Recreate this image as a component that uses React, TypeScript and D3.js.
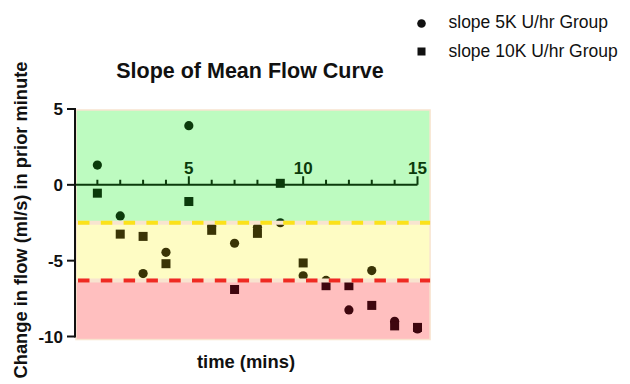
import React, { useRef, useEffect } from 'react';
import * as d3 from 'd3';

// ==================== DATA ====================
const TIMES = [1, 2, 3, 4, 5, 6, 7, 8, 9, 10, 11, 12, 13, 14, 15];
const SLOPE_5K = [1.3, -2.05, -5.85, -4.45, 3.9, -2.7, -3.85, -2.8, -2.5, -6.0, -6.3, -8.25, -5.65, -9.0, -9.5];
const SLOPE_10K = [-0.55, -3.25, -3.4, -5.2, -1.1, -3.0, -6.9, -3.2, 0.1, -5.15, -6.65, -6.65, -7.95, -9.3, -9.4];
const Y_TICKS = [5, 0, -5, -10];
const X_MAJOR = [5, 10, 15];
const SERIES_NAMES = ['slope 5K U/hr Group', 'slope 10K U/hr Group'];
const THRESHOLDS = [-2.5, -6.3]; // yellow / red cut-offs

const W = 630;
const H = 384;
const FONT = "'Liberation Sans', Arial, sans-serif";

// band colours + colour the marks take on inside each band
const BANDS = [
    { fill: '#bdfbc0', mark: '#0b3a0b' },
    { fill: '#fefcc4', mark: '#3a3406' },
    { fill: '#ffbfbf', mark: '#3e060e' },
];

const App = () => {
    const svgRef = useRef<SVGSVGElement | null>(null);

    useEffect(() => {
        const svg = d3.select(svgRef.current);
        svg.selectAll('*').remove();

        const x = d3.scaleLinear().domain([0, 15]).range([74.5, 417.5]);
        const y = d3.scaleLinear().domain([-10, 5]).range([336.5, 109]);

        const left = 76;
        const right = x(15.55);
        const top = y(5) + 1;
        const bottom = y(-10.2);

        const edges = [top, y(THRESHOLDS[0]), y(THRESHOLDS[1]), bottom];

        // --- bands ---
        const defs = svg.append('defs');
        BANDS.forEach((b, i) => {
            svg.append('rect')
                .attr('x', left).attr('y', edges[i])
                .attr('width', right - left).attr('height', edges[i + 1] - edges[i])
                .attr('fill', b.fill);
            defs.append('clipPath').attr('id', `band-${i}`)
                .append('rect')
                .attr('x', 0).attr('y', i === 0 ? 0 : edges[i])
                .attr('width', W).attr('height', (i === 2 ? H : edges[i + 1]) - (i === 0 ? 0 : edges[i]));
        });
        svg.append('rect')
            .attr('x', left).attr('y', top)
            .attr('width', right - left).attr('height', bottom - top)
            .attr('fill', 'none').attr('stroke', '#f8e4cf').attr('stroke-width', 1.5);

        // --- x axis at y = 0 and the points, drawn per band so colours follow the zone ---
        const x0 = y(0);
        BANDS.forEach((b, i) => {
            const g = svg.append('g').attr('clip-path', `url(#band-${i})`);

            g.append('line')
                .attr('x1', x(0)).attr('x2', x(15))
                .attr('y1', x0).attr('y2', x0)
                .attr('stroke', b.mark).attr('stroke-width', 2);
            g.selectAll('.xtick')
                .data(d3.range(1, 16))
                .enter().append('line')
                .attr('x1', d => x(d)).attr('x2', d => x(d))
                .attr('y1', x0).attr('y2', d => x0 - (X_MAJOR.includes(d) ? 8.5 : 5))
                .attr('stroke', b.mark).attr('stroke-width', 2);
            g.selectAll('.xlab')
                .data(X_MAJOR)
                .enter().append('text')
                .attr('x', d => x(d)).attr('y', x0 - 11)
                .attr('text-anchor', 'middle')
                .attr('font-family', FONT).attr('font-weight', 'bold').attr('font-size', 17)
                .attr('fill', b.mark)
                .text(d => d);

            g.selectAll('.dot')
                .data(TIMES.map((t, k) => ({ t, v: SLOPE_5K[k] })))
                .enter().append('circle')
                .attr('cx', d => x(d.t)).attr('cy', d => y(d.v)).attr('r', 4.6)
                .attr('fill', b.mark);
            g.selectAll('.sq')
                .data(TIMES.map((t, k) => ({ t, v: SLOPE_10K[k] })))
                .enter().append('rect')
                .attr('x', d => x(d.t) - 4.5).attr('y', d => y(d.v) - 4.5)
                .attr('width', 9).attr('height', 9)
                .attr('fill', b.mark);
        });

        // --- dashed threshold lines ---
        [['#fbe21a', THRESHOLDS[0]], ['#ef2a22', THRESHOLDS[1]]].forEach(([col, v]) => {
            const yy = y(v as number);
            svg.append('line')
                .attr('x1', left).attr('x2', right).attr('y1', yy).attr('y2', yy)
                .attr('stroke', '#f8e4cf').attr('stroke-width', 4);
            svg.append('line')
                .attr('x1', 78).attr('x2', right).attr('y1', yy).attr('y2', yy)
                .attr('stroke', col as string).attr('stroke-width', 4)
                .attr('stroke-dasharray', '11.5 11.3');
        });

        // --- y axis ---
        svg.append('line')
            .attr('x1', 75).attr('x2', 75).attr('y1', y(5) - 1).attr('y2', y(-10) + 1)
            .attr('stroke', '#111').attr('stroke-width', 2);
        const yt = svg.selectAll('.ytick').data(Y_TICKS).enter().append('g');
        yt.append('line')
            .attr('x1', 67).attr('x2', 75).attr('y1', d => y(d)).attr('y2', d => y(d))
            .attr('stroke', '#111').attr('stroke-width', 2);
        yt.append('text')
            .attr('x', 63).attr('y', d => y(d)).attr('dy', '0.36em')
            .attr('text-anchor', 'end')
            .attr('font-family', FONT).attr('font-weight', 'bold').attr('font-size', 17)
            .attr('fill', '#111')
            .text(d => d);

        // --- titles ---
        svg.append('text')
            .attr('x', 250).attr('y', 78).attr('text-anchor', 'middle')
            .attr('font-family', FONT).attr('font-weight', 'bold').attr('font-size', 21.5)
            .attr('fill', '#111')
            .text('Slope of Mean Flow Curve');
        svg.append('text')
            .attr('x', 246).attr('y', 368).attr('text-anchor', 'middle')
            .attr('font-family', FONT).attr('font-weight', 'bold').attr('font-size', 18.4)
            .attr('fill', '#111')
            .text('time (mins)');
        svg.append('text')
            .attr('transform', 'translate(27, 220) rotate(-90)')
            .attr('text-anchor', 'middle')
            .attr('font-family', FONT).attr('font-weight', 'bold').attr('font-size', 18.3)
            .attr('fill', '#111')
            .text('Change in flow (ml/s) in prior minute');

        // --- legend ---
        const lg = svg.append('g').attr('transform', 'translate(421.5, 0)');
        lg.append('circle').attr('cx', 0).attr('cy', 23.5).attr('r', 4.3).attr('fill', '#111');
        lg.append('rect').attr('x', -4).attr('y', 47.5).attr('width', 8).attr('height', 8).attr('fill', '#111');
        SERIES_NAMES.forEach((name, i) => {
            lg.append('text')
                .attr('x', 27).attr('y', 28 + i * 28.5)
                .attr('font-family', FONT).attr('font-size', 17.5)
                .attr('fill', '#111')
                .text(name);
        });
    }, []);

    return (
        <svg
            ref={svgRef}
            width={W}
            height={H}
            style={{ position: 'absolute', left: 0, top: 0, background: '#fff' }}
        />
    );
};

export default App;
